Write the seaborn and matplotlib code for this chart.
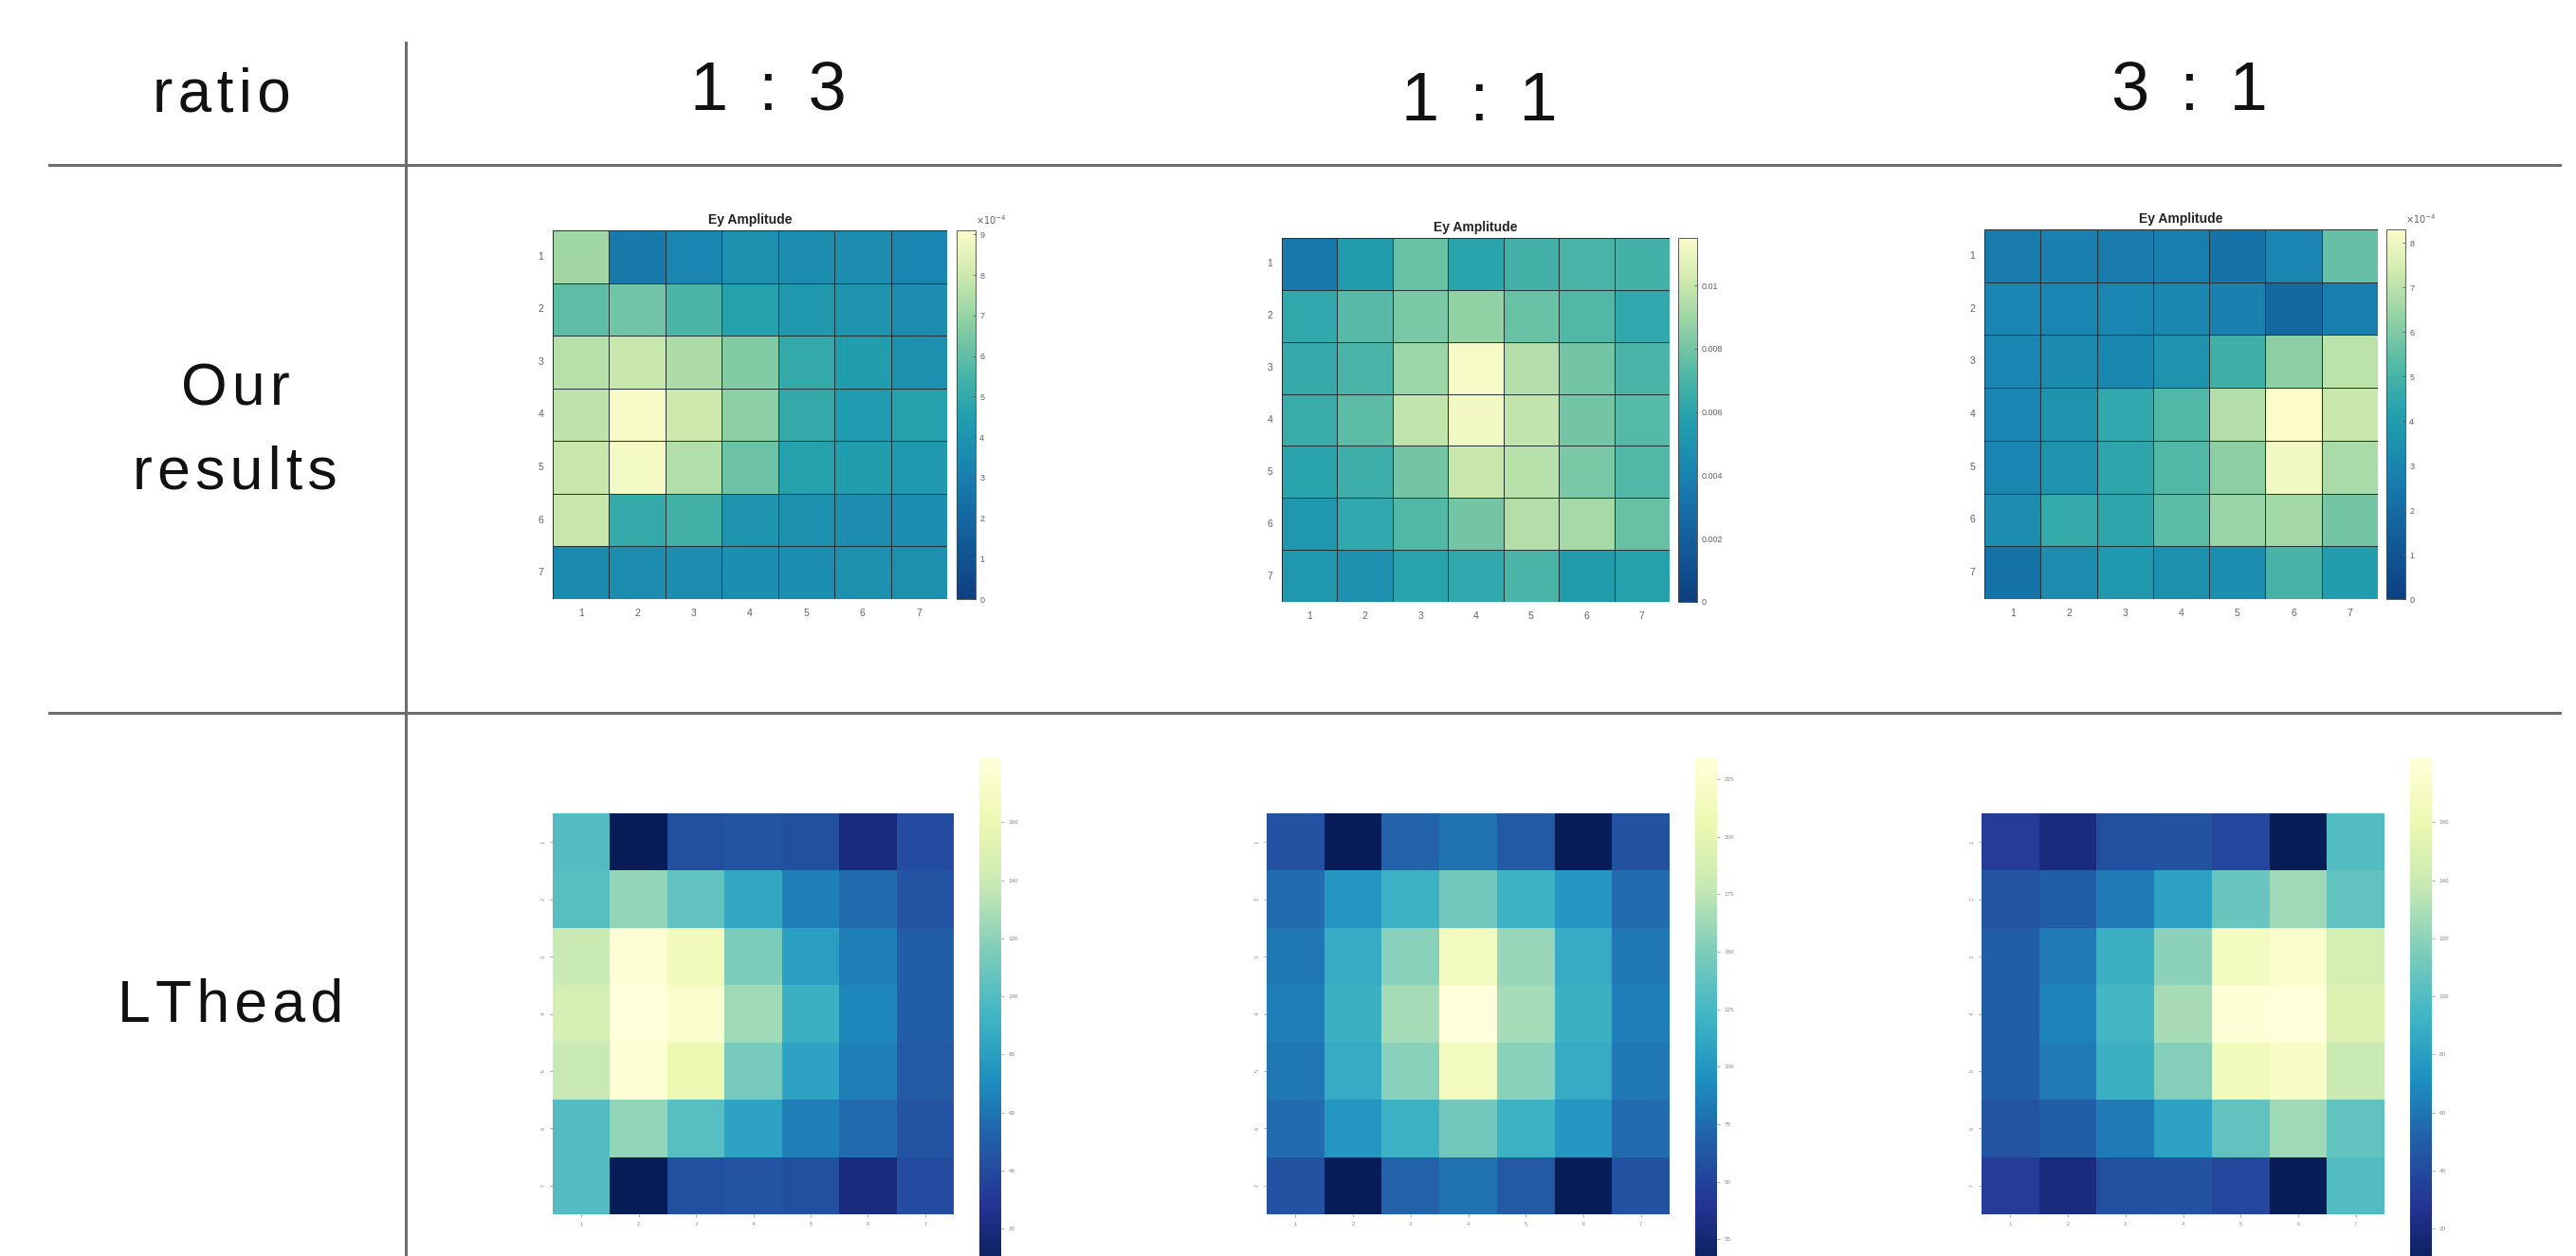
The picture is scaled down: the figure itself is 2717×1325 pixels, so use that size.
import numpy as np
import matplotlib
matplotlib.use("Agg")
import matplotlib.pyplot as plt
import seaborn as sns
from matplotlib.colors import LinearSegmentedColormap
from matplotlib.lines import Line2D

# column / row headers of the comparison table
corner_label = "ratio"
ratio_labels = ["1 : 3", "1 : 1", "3 : 1"]
row_labels = ["Our", "results", "LThead"]
cell_labels = [1, 2, 3, 4, 5, 6, 7]

# "Our results" Ey amplitude (1:3 and 3:1 in units of 1e-4)
ours_1_3 = [[7.2, 2.8, 3.3, 3.8, 3.6, 3.6, 3.3],
            [6.0, 6.3, 5.6, 4.6, 4.2, 4.0, 3.6],
            [7.6, 7.9, 7.4, 6.6, 5.0, 4.4, 3.8],
            [7.7, 9.0, 8.0, 6.8, 5.0, 4.3, 4.6],
            [7.9, 8.9, 7.5, 6.2, 4.6, 4.4, 4.2],
            [7.9, 5.0, 5.4, 4.0, 3.8, 3.6, 3.7],
            [3.5, 3.6, 3.6, 3.7, 3.7, 3.8, 3.8]]
ours_1_1 = [[0.0035, 0.0055, 0.0078, 0.0060, 0.0068, 0.0070, 0.0068],
            [0.0062, 0.0074, 0.0082, 0.0088, 0.0078, 0.0072, 0.0062],
            [0.0064, 0.0070, 0.0090, 0.0113, 0.0095, 0.0080, 0.0070],
            [0.0065, 0.0075, 0.0098, 0.0112, 0.0098, 0.0080, 0.0073],
            [0.0060, 0.0066, 0.0080, 0.0100, 0.0096, 0.0082, 0.0072],
            [0.0052, 0.0062, 0.0072, 0.0080, 0.0095, 0.0092, 0.0078],
            [0.0052, 0.0048, 0.0060, 0.0062, 0.0070, 0.0055, 0.0058]]
ours_3_1 = [[2.6, 2.8, 2.6, 2.7, 2.3, 3.0, 5.6],
            [3.0, 3.0, 3.0, 3.1, 2.8, 1.9, 2.7],
            [3.0, 3.2, 3.1, 3.6, 4.8, 6.2, 7.0],
            [3.0, 3.6, 4.5, 5.2, 6.9, 8.3, 7.2],
            [3.0, 3.6, 4.4, 5.2, 6.2, 8.1, 6.7],
            [3.3, 4.6, 4.4, 5.4, 6.4, 6.6, 5.8],
            [2.3, 3.3, 3.8, 3.5, 3.4, 5.0, 4.0]]
ours_vmax = [9.1, 0.0115, 8.3]
ours_cticks = [[0, 1, 2, 3, 4, 5, 6, 7, 8, 9],
               [0, 0.002, 0.004, 0.006, 0.008, 0.01],
               [0, 1, 2, 3, 4, 5, 6, 7, 8]]
ours_clabels = [["0", "1", "2", "3", "4", "5", "6", "7", "8", "9"],
                ["0", "0.002", "0.004", "0.006", "0.008", "0.01"],
                ["0", "1", "2", "3", "4", "5", "6", "7", "8"]]
ours_offset = [r"$\times10^{-4}$", "", r"$\times10^{-4}$"]

# LThead amplitude maps
lthead_1_3 = [[100, 6, 42, 45, 42, 20, 40],
              [102, 122, 105, 85, 65, 55, 45],
              [140, 178, 165, 115, 80, 65, 50],
              [145, 182, 175, 125, 90, 68, 50],
              [138, 178, 160, 112, 82, 65, 48],
              [100, 122, 102, 82, 65, 55, 45],
              [100, 6, 42, 45, 42, 20, 40]]
lthead_1_1 = [[60, 12, 70, 78, 65, 12, 60],
              [75, 100, 120, 145, 120, 100, 75],
              [82, 115, 155, 215, 160, 115, 82],
              [85, 118, 165, 234, 165, 118, 85],
              [82, 115, 155, 215, 155, 115, 82],
              [75, 100, 120, 145, 120, 100, 75],
              [60, 12, 70, 78, 65, 12, 60]]
lthead_3_1 = [[32, 20, 42, 44, 38, 6, 100],
              [45, 50, 62, 82, 108, 125, 105],
              [50, 62, 90, 120, 168, 175, 145],
              [50, 66, 95, 128, 180, 182, 150],
              [50, 62, 90, 118, 165, 172, 140],
              [45, 50, 62, 82, 105, 125, 105],
              [32, 20, 42, 44, 38, 6, 100]]
lthead_cticks = [[20, 40, 60, 80, 100, 120, 140, 160],
                 [25, 50, 75, 100, 125, 150, 175, 200, 225],
                 [20, 40, 60, 80, 100, 120, 140, 160]]

plt.rcParams['font.family'] = ['Liberation Sans', 'DejaVu Sans']

W, H = 2717, 1325
fig = plt.figure(figsize=(W / 100, H / 100), dpi=100)
fig.patch.set_facecolor("white")


def px_rect(x0, y0, x1, y1):
    """Pixel box (top-left origin) -> figure fraction rect."""
    return [x0 / W, 1 - y1 / H, (x1 - x0) / W, (y1 - y0) / H]


def tracked(s):
    # the table headings are letter-spaced, fake it with hair spaces
    return "\u200a".join(s)


def header(x, y, s, size):
    fig.text(x / W, 1 - y / H, tracked(s), ha="center", va="baseline",
             fontsize=size, color="#111111")


ours_cmap = LinearSegmentedColormap.from_list(
    "ours", [(0.0, "#0e3f7f"), (0.2, "#1463a0"), (0.35, "#1983b0"),
             (0.5, "#22a0ad"), (0.62, "#4db6a6"), (0.75, "#8ccfa4"),
             (0.88, "#cde9ad"), (1.0, "#fbfcca")])

# table lines
line_kw = dict(transform=fig.transFigure, color="#6e6e6e", lw=2.2)
for y in (174, 752):
    fig.add_artist(Line2D([52 / W, 2700 / W], [1 - y / H, 1 - y / H], **line_kw))
fig.add_artist(Line2D([428 / W, 428 / W], [1 - 45 / H, 0], **line_kw))

# header texts
header(234, 118, corner_label, 46)
for cx, by, lab in zip([810, 1560, 2309], [115, 127, 115], ratio_labels):
    header(cx, by, lab, 52)
header(248, 428, row_labels[0], 45)
header(248, 516, row_labels[1], 45)
header(243, 1077, row_labels[2], 45)

# top row: our results
ours_data = [ours_1_3, ours_1_1, ours_3_1]
ours_boxes = [(583, 243, 999, 632), (1352, 251, 1761, 635), (2093, 242, 2508, 632)]
ours_cbar = [(1009, 243, 1029, 632), (1770, 251, 1790, 635), (2517, 242, 2537, 632)]
for i in range(3):
    ax = fig.add_axes(px_rect(*ours_boxes[i]))
    cax = fig.add_axes(px_rect(*ours_cbar[i]))
    sns.heatmap(np.array(ours_data[i]), ax=ax, cbar_ax=cax, cmap=ours_cmap,
                vmin=0, vmax=ours_vmax[i], linewidths=0.6, linecolor="#243434",
                xticklabels=cell_labels, yticklabels=cell_labels)
    ax.set_title("Ey Amplitude", fontsize=10, fontweight="bold", color="#222222", pad=5)
    ax.tick_params(length=0, labelsize=7.5, colors="#606060", pad=7)
    ax.tick_params(axis="y", labelrotation=0)
    cb = ax.collections[0].colorbar
    cb.outline.set_visible(True)
    cb.outline.set_linewidth(0.6)
    cb.outline.set_edgecolor("#444444")
    cb.set_ticks(ours_cticks[i])
    cb.set_ticklabels(ours_clabels[i])
    cax.tick_params(labelsize=6.5, length=2.5, width=0.6, direction="in",
                    colors="#606060", pad=3)
    if ours_offset[i]:
        cax.text(1.0, 1.01, ours_offset[i], transform=cax.transAxes, fontsize=7,
                 color="#606060", ha="left", va="bottom")

# bottom row: LThead
lthead_data = [lthead_1_3, lthead_1_1, lthead_3_1]
lt_boxes = [(583, 858, 1006, 1281), (1336, 858, 1761, 1281), (2090, 858, 2515, 1281)]
lt_cbar = [(1033, 800, 1056, 1339), (1788, 800, 1811, 1339), (2542, 800, 2565, 1339)]
for i in range(3):
    ax = fig.add_axes(px_rect(*lt_boxes[i]))
    cax = fig.add_axes(px_rect(*lt_cbar[i]))
    sns.heatmap(np.array(lthead_data[i]), ax=ax, cbar_ax=cax, cmap="YlGnBu_r",
                xticklabels=cell_labels, yticklabels=cell_labels)
    ax.tick_params(labelsize=4, colors="#888888", length=2, width=0.5)
    ax.tick_params(axis="y", labelrotation=90)
    cb = ax.collections[0].colorbar
    cb.set_ticks(lthead_cticks[i])
    cax.tick_params(labelsize=4.5, colors="#888888", length=2, width=0.5)

fig.savefig("out.png", dpi=100, facecolor="white")
